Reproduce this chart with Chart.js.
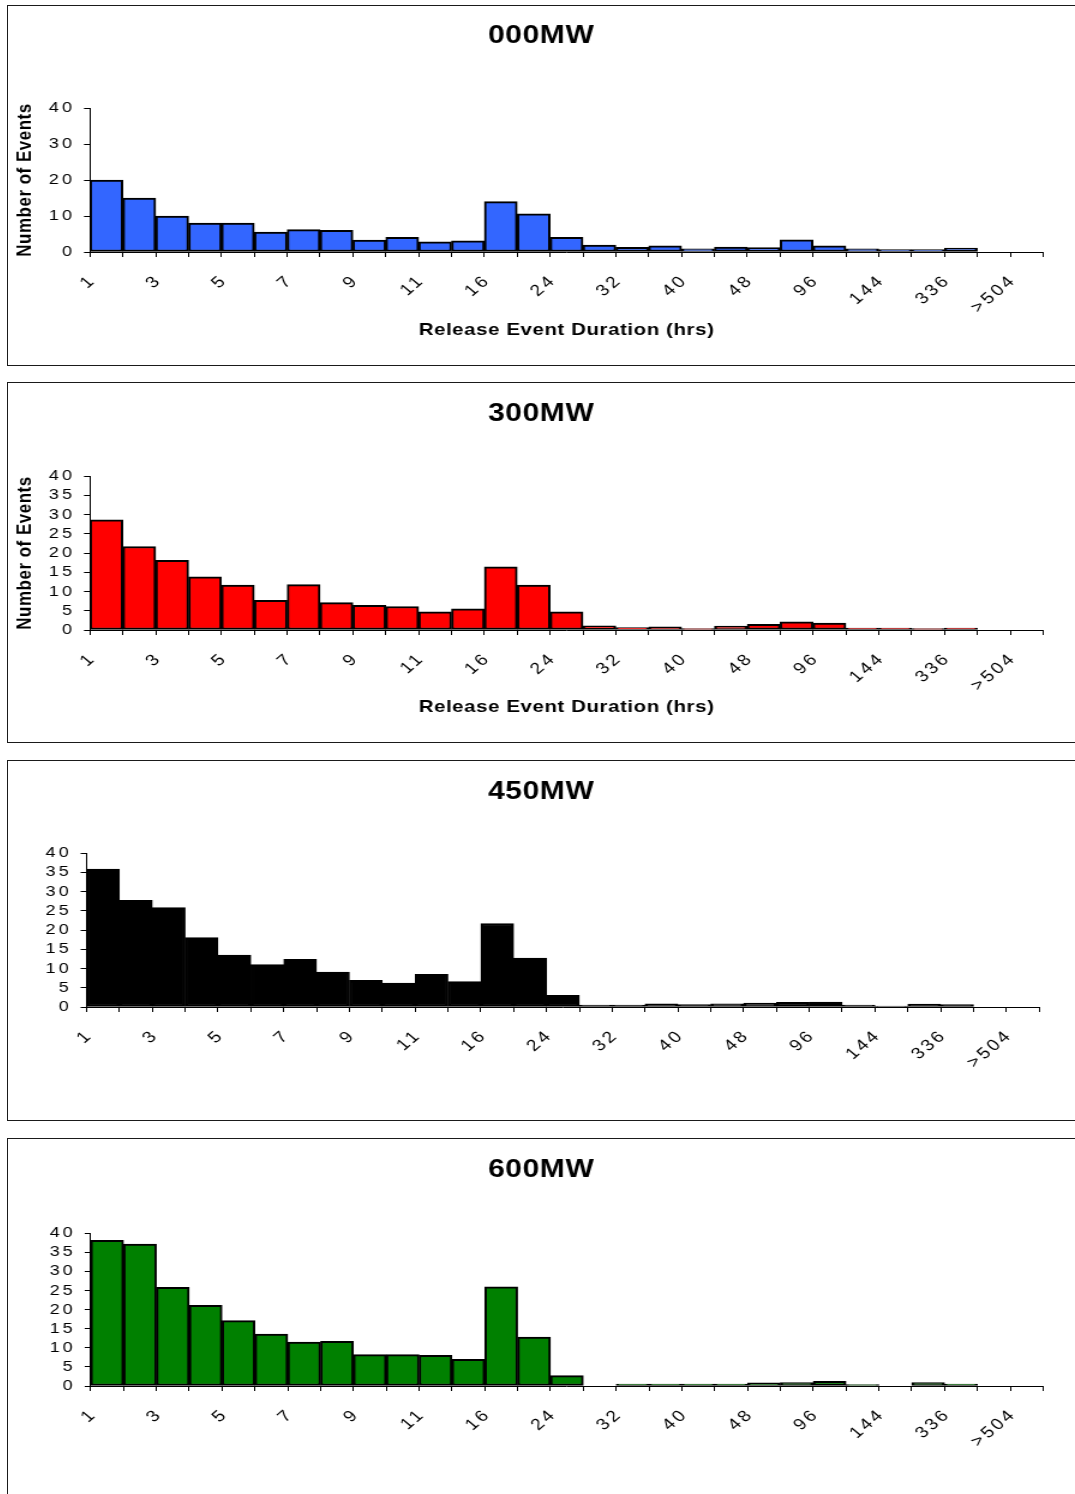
<!DOCTYPE html>
<html>
<head>
<meta charset="utf-8">
<title>Release Event Duration</title>
<script src="https://cdn.jsdelivr.net/npm/chart.js@4.4.1/dist/chart.umd.min.js"></script>
<style>
  html, body { margin: 0; padding: 0; background: #fff; overflow: hidden; }
  body { width: 1075px; height: 1494px; position: relative; }
  .panel { position: absolute; left: 7px; width: 1090px; height: 361px; border: 1px solid #1a1a1a; box-sizing: border-box; }
  canvas { position: absolute; left: 8px; }
</style>
</head>
<body>
<div class="panel" style="top:5px"></div>
<div class="panel" style="top:382px"></div>
<div class="panel" style="top:760px"></div>
<div class="panel" style="top:1138px"></div>
<!-- drawn narrow and widened by css, the way the sheet stretches its charts -->
<canvas id="hist000" width="889" height="359" style="top:6px;width:1067px;height:359px"></canvas>
<canvas id="hist300" width="889" height="359" style="top:383px;width:1067px;height:359px"></canvas>
<canvas id="hist450" width="889" height="359" style="top:761px;width:1067px;height:359px"></canvas>
<canvas id="hist600" width="889" height="359" style="top:1139px;width:1067px;height:359px"></canvas>
<script>
// duration bins (hrs); only every other one gets a label
const durationBins = ['1', '2', '3', '4', '5', '6', '7', '8', '9', '10', '11', '12', '16', '20', '24',
  '28', '32', '36', '40', '44', '48', '72', '96', '120', '144', '240', '336', '420', '>504'];

const events000 = [20, 15, 10, 8, 8, 5.5, 6.2, 6, 3.3, 4.1, 2.8, 3.1, 14, 10.6, 4.1,
  1.9, 1.3, 1.7, 0.9, 1.4, 1.2, 3.4, 1.7, 0.9, 0.7, 0.7, 1.1, 0, 0];
const events300 = [28.6, 21.7, 18.1, 13.8, 11.7, 7.7, 11.8, 7.1, 6.4, 6.1, 4.7, 5.5, 16.4, 11.7, 4.7,
  1.1, 0.6, 0.8, 0.4, 1.0, 1.5, 2.1, 1.8, 0.5, 0.5, 0.4, 0.5, 0, 0];
const events450 = [35.8, 27.7, 25.8, 18.0, 13.5, 11.0, 12.4, 9.1, 6.9, 6.2, 8.5, 6.6, 21.7, 12.7, 3.0,
  0.5, 0.5, 0.8, 0.6, 0.85, 1.0, 1.2, 1.3, 0.5, 0.25, 0.75, 0.6, 0, 0];
const events600 = [38.1, 37.1, 25.8, 21.1, 17.1, 13.6, 11.5, 11.7, 8.2, 8.2, 8.0, 7.0, 25.9, 12.8, 2.7,
  0, 0.5, 0.5, 0.5, 0.5, 0.8, 0.9, 1.2, 0.4, 0, 0.9, 0.5, 0, 0];

const yMax = 40;

const FONT = '"Liberation Sans", Arial, sans-serif';
Chart.defaults.font.family = FONT;
Chart.defaults.color = '#000';

// titles get a little letter spacing; tick labels sit on layer z=1
// (drawn after the bars) and get a wider one
const textSpacing = {
  id: 'textSpacing',
  beforeDraw(chart) { chart.ctx.letterSpacing = '0.5px'; },
  afterDatasetsDraw(chart) { chart.ctx.letterSpacing = '2.5px'; },
  afterDraw(chart) { chart.ctx.letterSpacing = '0px'; }
};

function plotHistogram(canvasId, title, values, color, step, withAxisTitles, box) {
  return new Chart(document.getElementById(canvasId), {
    type: 'bar',
    data: {
      labels: durationBins,
      datasets: [{
        data: values,
        backgroundColor: color,
        borderColor: '#000',
        borderWidth: 2,
        borderSkipped: false,
        categoryPercentage: 1,
        barPercentage: 1
      }]
    },
    options: {
      responsive: false,
      animation: false,
      devicePixelRatio: 1,
      layout: { padding: { left: box.padLeft, right: box.right, top: 0, bottom: 0 } },
      plugins: {
        legend: { display: false },
        tooltip: { enabled: false },
        title: {
          display: true,
          text: title,
          color: '#000',
          font: { family: FONT, size: 25, weight: 'bold' },
          padding: { top: box.titleTop, bottom: box.titleBottom }
        }
      },
      scales: {
        x: {
          grid: { offset: true, drawOnChartArea: false, tickLength: 5, color: '#000', lineWidth: 1 },
          border: { color: '#000', width: 1 },
          ticks: {
            autoSkip: false,
            minRotation: 45,
            maxRotation: 45,
            labelOffset: -11,
            padding: 14,
            z: 1,
            font: { size: 16 },
            callback: (v, i) => (i % 2 === 0 ? durationBins[i] : '')
          },
          title: {
            display: withAxisTitles,
            text: 'Release Event Duration (hrs)',
            font: { size: 17, weight: 'bold' },
            padding: { top: 0, bottom: 24.8 }
          },
          afterFit: (scale) => { scale.height = box.xHeight; }
        },
        y: {
          min: 0,
          max: yMax,
          grid: { drawOnChartArea: false, tickLength: 5, color: '#000', lineWidth: 1 },
          border: { color: '#000', width: 1 },
          ticks: { stepSize: step, autoSkip: false, maxTicksLimit: 20, padding: 7.5, z: 1, font: { size: 15 } },
          title: {
            display: withAxisTitles,
            text: 'Number of Events',
            font: { size: 17, weight: 'bold' },
            // the axis box starts at padLeft; pull the title back to the panel edge
            padding: { top: 14.6 - box.padLeft - 10.2, bottom: 0 }
          },
          afterFit: (scale) => { scale.width = box.left - box.padLeft; }
        }
      }
    },
    plugins: [textSpacing]
  });
}

plotHistogram('hist000', '000MW', events000, '#3366FF', 10, true,
  { padLeft: 26, left: 68.3, right: 26.6, titleTop: 15, titleBottom: 57, xHeight: 113 });
plotHistogram('hist300', '300MW', events300, '#FF0000', 5, true,
  { padLeft: 26, left: 68.3, right: 26.6, titleTop: 16, titleBottom: 47, xHeight: 112 });
plotHistogram('hist450', '450MW', events450, '#000000', 5, false,
  { padLeft: 29.2, left: 65.5, right: 29.8, titleTop: 16, titleBottom: 46, xHeight: 113 });
plotHistogram('hist600', '600MW', events600, '#008000', 5, false,
  { padLeft: 26, left: 68.9, right: 26.6, titleTop: 16, titleBottom: 48, xHeight: 112 });
</script>
</body>
</html>
